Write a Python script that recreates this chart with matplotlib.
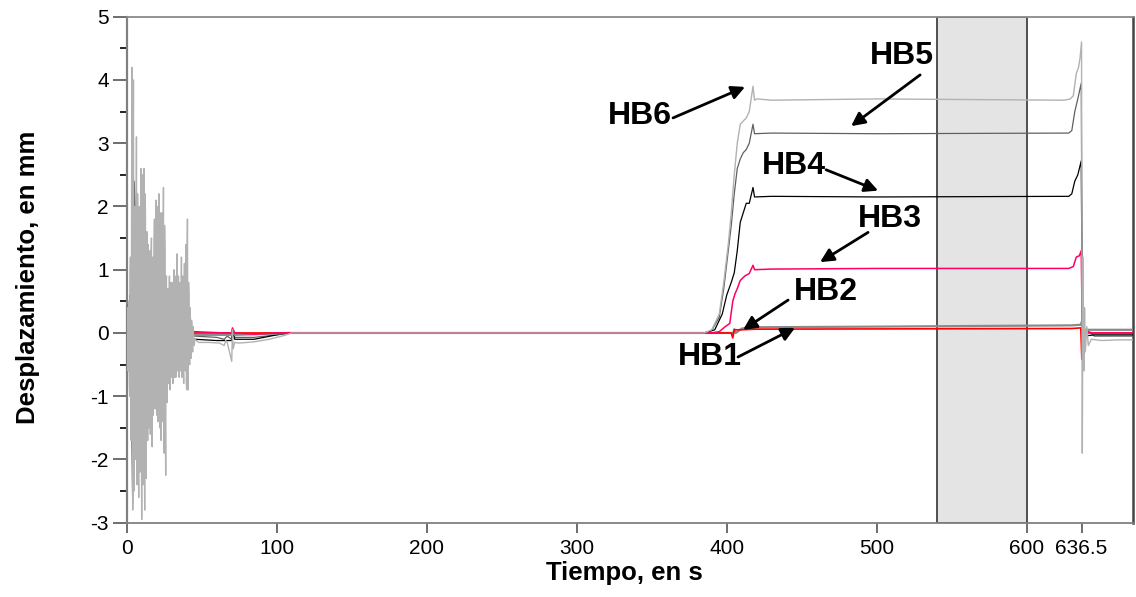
import numpy as np
import matplotlib
matplotlib.use("Agg")
import matplotlib.pyplot as plt

plt.rcParams['font.family'] = ['Liberation Sans', 'DejaVu Sans']
plt.rcParams['axes.unicode_minus'] = False

# ---------------- data ----------------
# strong-motion part (0-45 s): HB6 read every 0.25 s (two interleaved lists), others every 1 s
hb6_noise_a_t = np.arange(0, 45.5, 0.5)          # 0, 0.5, 1.0 ...
hb6_noise_a = [0.0, 0.4, -0.6, 0.3, -1.0, 1.2, -1.7, 4.2, -2.8, 4.0,
               -2.2, 2.0, -1.6, 3.1, -2.4, 1.5, -2.6, 2.0, -1.5, 2.6,
               -2.95, 2.5, -2.1, 2.6, -2.8, 1.9, -2.3, 1.6, -1.7, 1.0,
               -1.4, 1.3, -1.2, 1.5, -1.8, 1.2, -1.0, 1.8, -1.2, 2.1,
               -1.3, 1.7, -1.1, 2.2, -1.5, 1.4, -1.7, 1.9, -1.4, 2.3,
               -1.9, 1.3, -2.25, 0.9, -1.1, 0.7, -0.8, 0.9, -0.9, 0.6,
               -0.7, 0.8, -0.6, 1.0, -0.7, 0.7, -0.6, 1.25, -0.5, 0.9,
               -0.7, 0.5, -0.6, 1.2, -0.5, 0.6, -0.8, 1.1, -0.6, 1.4,
               -0.9, 1.8, -0.9, 0.6, -0.5, 0.2, -0.4, 0.1, -0.3, 0.0, -0.2]
hb6_noise_b_t = np.arange(0.25, 45.0, 0.5)       # 0.25, 0.75, ...
hb6_noise_b = [-0.3, 0.2, 0.5, -0.8, 0.9, -1.2, 2.0, -1.5, 1.8, -2.5,
               1.4, -2.0, 1.2, -1.8, 2.2, -1.9, 1.3, -2.2, 1.7, -1.6,
               1.9, -2.4, 1.5, -1.9, 2.2, -1.4, 1.1, -1.2, 1.4, -1.5,
               0.9, -1.6, 1.1, -0.9, 1.0, -1.3, 1.4, -0.8, 1.2, -1.0,
               2.0, -1.4, 1.3, -1.2, 1.9, -1.0, 1.1, -1.3, 1.0, -1.1,
               1.7, -1.4, 0.8, -0.9, 0.6, -0.7, 0.5, -0.6, 0.8, -0.5,
               0.6, -0.8, 0.7, -0.5, 0.9, -0.7, 0.6, -0.6, 0.7, -0.5,
               0.8, -0.4, 0.6, -0.7, 0.9, -0.6, 0.7, -0.5, 0.9, -0.8,
               1.2, -0.6, 0.8, -0.4, 0.4, -0.3, 0.2, -0.2, 0.1, -0.1]

noise_t = np.arange(0, 45.5, 1.0)
hb5_noise = [0.0, -0.4, 0.6, -0.9, -2.7, 2.4, 1.8, -1.2, 0.9, -1.5,
             1.2, -1.0, 1.1, -0.8, 0.7, -0.9, 0.6, -0.7, 0.8, -0.6,
             0.5, -0.7, 0.6, -0.5, 0.7, -0.8, 0.4, -0.5, 0.3, -0.4,
             0.4, -0.3, 0.5, -0.4, 0.3, -0.3, 0.4, -0.3, 0.2, -0.2,
             0.3, -0.2, 0.2, -0.1, 0.1, -0.05]
hb4_noise = [0.0, 0.2, -0.3, 0.5, -0.8, 1.0, -0.7, 0.6, -0.9, 0.7,
             -0.6, 0.8, -0.5, 0.6, -0.7, 0.5, -0.4, 0.5, -0.6, 0.4,
             -0.3, 0.5, -0.4, 0.3, -0.5, 0.4, -0.3, 0.3, -0.2, 0.3,
             -0.3, 0.2, -0.2, 0.3, -0.2, 0.2, -0.2, 0.15, -0.2, 0.2,
             -0.15, 0.1, -0.1, 0.05, -0.1, -0.1]
hb3_noise = [0.0, 0.45, -0.2, 0.3, -0.3, 0.2, -0.2, 0.3, -0.2, 0.2,
             -0.2, 0.1, -0.1, 0.2, -0.1, 0.1, -0.2, 0.1, 0.93, -0.1,
             0.1, -0.1, 0.1, -0.1, 0.1, -0.1, 0.05, -0.05, 0.1, -0.05,
             0.05, -0.05, 0.05, -0.05, 0.05, -0.05, 0.05, -0.05, 0.05, 0.1,
             0.96, -0.05, 0.05, 0.0, 0.02, 0.02]
hb2_noise = [0.0, 0.1, -0.15, 0.2, -0.2, 0.15, -0.1, 0.2, -0.15, 0.1,
             -0.1, 0.15, -0.1, 0.1, -0.1, 0.1, -0.1, 0.05, -0.05, 0.1,
             -0.05, 0.05, -0.05, 0.05, -0.05, 0.05, -0.05, 0.05, -0.05, 0.05,
             -0.05, 0.05, -0.05, 0.05, -0.05, 0.05, -0.05, 0.05, -0.05, 0.05,
             -0.05, 0.03, -0.03, 0.02, -0.02, -0.03]
hb1_noise = [0.0, 0.05, -0.1, 0.1, -0.1, 0.1, -0.05, 0.1, -0.1, 0.05,
             -0.05, 0.1, -0.05, 0.05, -0.05, 0.05, -0.05, 0.05, -0.05, 0.05,
             -0.05, 0.05, -0.05, 0.05, -0.05, 0.05, -0.05, 0.05, -0.05, 0.05,
             -0.03, 0.03, -0.03, 0.03, -0.03, 0.03, -0.03, 0.03, -0.03, 0.03,
             -0.02, 0.02, -0.02, 0.02, -0.02, 0.0]

# remaining record (after 45 s)
hb6_t = [45.5, 48, 55, 62, 65, 66, 67, 70, 70.5, 71, 72, 75, 85, 95, 105, 110, 200, 300, 385,
         390, 395, 398, 401, 403, 405, 407, 409, 411, 413, 415, 417.5, 418.5, 420, 430, 500,
         560, 625, 629, 631, 633, 634.5, 635.5, 636.5, 637.0, 637.5, 638, 638.5, 639, 640,
         641, 643, 650, 660, 671]
hb6_y = [-0.1, -0.15, -0.15, -0.16, -0.2, -0.12, -0.15, -0.45, 0.05, -0.25, -0.15, -0.16,
         -0.14, -0.1, -0.04, 0.0, 0.0, 0.0, 0.0,
         0.05, 0.3, 0.8, 1.4, 1.9, 2.5, 3.0, 3.3, 3.35, 3.4, 3.5, 3.9, 3.68, 3.7, 3.68, 3.7,
         3.69, 3.68, 3.7, 3.75, 4.1, 4.2, 4.35, 4.6, -1.9, 1.2, -0.6, 0.4, -0.3, 0.1,
         -0.2, -0.1, -0.12, -0.11, -0.11]

hb5_t = [45.5, 60, 65, 67, 70, 70.5, 72, 85, 100, 108, 200, 385,
         390, 395, 398, 401, 403, 405, 407, 409, 411, 413, 415, 417.5, 418.5, 430, 500, 628,
         630, 632, 634, 636.3, 637, 638, 640, 645, 671]
hb5_y = [-0.05, -0.07, -0.1, -0.05, -0.1, 0.05, -0.07, -0.07, -0.03, 0.0, 0.0, 0.0,
         0.04, 0.25, 0.7, 1.3, 1.7, 2.2, 2.6, 2.75, 2.85, 2.9, 3.0, 3.3, 3.15, 3.16, 3.15, 3.16,
         3.2, 3.5, 3.7, 3.95, 0.2, -0.1, 0.05, -0.05, -0.05]

hb4_t = [45.5, 60, 65, 70, 70.5, 72, 85, 100, 108, 200, 385,
         392, 397, 400, 403, 405, 407, 409, 411, 413, 415, 417.5, 418.5, 430, 500, 628,
         630, 632, 634, 636.3, 637, 638, 645, 671]
hb4_y = [-0.1, -0.12, -0.12, -0.12, 0.03, -0.1, -0.1, -0.03, 0.0, 0.0, 0.0,
         0.05, 0.3, 0.6, 0.8, 0.95, 1.3, 1.75, 1.9, 2.05, 2.05, 2.3, 2.15, 2.16, 2.15, 2.16,
         2.2, 2.4, 2.5, 2.72, 0.1, -0.05, -0.03, -0.03]

hb3_t = [45.5, 65, 70, 70.5, 72, 85, 100, 108, 200, 390,
         395, 399, 402, 404, 405.5, 407, 409, 412, 415, 417.5, 418.5, 430, 500, 628,
         631, 633, 635, 636.3, 637, 638, 645, 671]
hb3_y = [0.02, 0.0, 0.0, 0.08, 0.0, -0.02, 0.0, 0.0, 0.0, 0.0,
         0.02, 0.1, 0.15, 0.5, 0.62, 0.7, 0.83, 0.9, 0.94, 1.07, 1.0, 1.01, 1.02, 1.02,
         1.05, 1.2, 1.22, 1.3, 0.0, 0.02, 0.0, 0.0]

hb2_t = [45.5, 65, 70, 70.5, 72, 100, 108, 200, 395, 403, 404, 405, 406, 410, 420, 500,
         630, 636, 637, 638, 645, 671]
hb2_y = [-0.03, -0.03, -0.03, 0.05, -0.03, -0.01, 0.0, 0.0, 0.0, 0.0, -0.03, 0.06, 0.0,
         0.07, 0.09, 0.1, 0.12, 0.13, 0.2, 0.05, 0.05, 0.05]

hb1_t = [45.5, 70, 70.5, 72, 108, 200, 395, 403, 404, 405, 410, 420, 630, 636, 636.7,
         637.3, 638, 671]
hb1_y = [0.0, 0.0, 0.04, 0.0, 0.0, 0.0, 0.0, 0.0, -0.08, 0.05, 0.05, 0.06, 0.07, 0.08,
         -0.42, 0.1, 0.0, 0.0]

x_ticks = [0, 100, 200, 300, 400, 500, 600, 636.5]
x_tick_labels = ['0', '100', '200', '300', '400', '500', '600', '636.5']
y_ticks = [-3, -2, -1, 0, 1, 2, 3, 4, 5]
shade_span = (540, 600)

# ---------------- figure ----------------
fig = plt.figure(figsize=(11.36, 5.97), dpi=100)
ax = fig.add_axes([126.7 / 1136, 1 - 522.7 / 597, (1133.3 - 126.7) / 1136, (522.7 - 16.7) / 597])

ax.axvspan(*shade_span, facecolor='#e4e4e4', edgecolor='#333333', lw=1.2, zorder=0)

# merge the two HB6 read-outs in time order
n6_t = np.concatenate([hb6_noise_a_t, hb6_noise_b_t])
n6_y = np.concatenate([hb6_noise_a, hb6_noise_b])
order = np.argsort(n6_t, kind='stable')
n6_t, n6_y = n6_t[order], n6_y[order]

def series(nt, ny, t, y):
    return np.concatenate([nt, t]), np.concatenate([ny, y])

lw = 0.9
t6, y6 = series(n6_t, n6_y, hb6_t, hb6_y)
t5, y5 = series(noise_t, hb5_noise, hb5_t, hb5_y)
t4, y4 = series(noise_t, hb4_noise, hb4_t, hb4_y)
t3, y3 = series(noise_t, hb3_noise, hb3_t, hb3_y)
t2, y2 = series(noise_t, hb2_noise, hb2_t, hb2_y)
t1, y1 = series(noise_t, hb1_noise, hb1_t, hb1_y)

ax.plot(t5, y5, color='#606060', lw=lw, zorder=3)
ax.plot(t4, y4, color='#000000', lw=lw, zorder=4)
ax.plot(t2, y2, color='#8a8a8a', lw=1.6, zorder=5)
ax.plot(t1, y1, color='#ff0000', lw=1.2, zorder=6)
ax.plot(t3, y3, color='#ff0066', lw=1.1, zorder=7)
ax.plot(t6, y6, color='#b2b2b2', lw=1.0, zorder=8)

ax.set_xlim(0, 671)
ax.set_ylim(-3, 5)
ax.set_xticks(x_ticks)
ax.set_xticklabels(x_tick_labels)
ax.set_yticks(y_ticks)
ax.set_yticks(np.array(y_ticks[:-1]) + 0.5, minor=True)
ax.tick_params(axis='both', direction='out', labelsize=15, colors='#555555', labelcolor='black')
ax.tick_params(axis='y', which='major', length=10, width=1.2, pad=3)
ax.tick_params(axis='y', which='minor', length=5, width=1.2)
ax.tick_params(axis='x', which='major', length=7.5, width=1.2, pad=4)

for s, c, w in [('left', '#808080', 1.6), ('bottom', '#808080', 1.3),
                ('top', '#8a8a8a', 1.3), ('right', '#444444', 1.8)]:
    ax.spines[s].set_color(c)
    ax.spines[s].set_linewidth(w)

ax.set_xlabel('Tiempo, en s', fontsize=18.5, fontweight='bold')
ax.set_ylabel('Desplazamiento, en mm', fontsize=18.5, fontweight='bold')
ax.xaxis.set_label_coords(0.494, -0.076)
ax.yaxis.set_label_coords(-0.086, 0.485)

labels = [
    ('HB6', (342.2, 3.43), (364.2, 3.40), (412.2, 3.89)),
    ('HB5', (516.9, 4.38), (528.9, 4.08), (482.9, 3.27)),
    ('HB4', (445.0, 2.64), (466.2, 2.58), (500.9, 2.25)),
    ('HB3', (508.9, 1.80), (494.2, 1.59), (462.2, 1.12)),
    ('HB2', (466.2, 0.65), (440.9, 0.52), (410.9, 0.05)),
    ('HB1', (389.0, -0.38), (407.5, -0.38), (445.5, 0.08)),
]
for name, tpos, tail, head in labels:
    ax.text(*tpos, name, fontsize=23, fontweight='bold', ha='center', va='center', zorder=10)
    ax.annotate('', xy=head, xytext=tail,
                arrowprops=dict(arrowstyle='-|>', color='black', lw=2,
                                mutation_scale=20, shrinkA=0, shrinkB=0), zorder=10)

fig.savefig('out.png', dpi=100)
